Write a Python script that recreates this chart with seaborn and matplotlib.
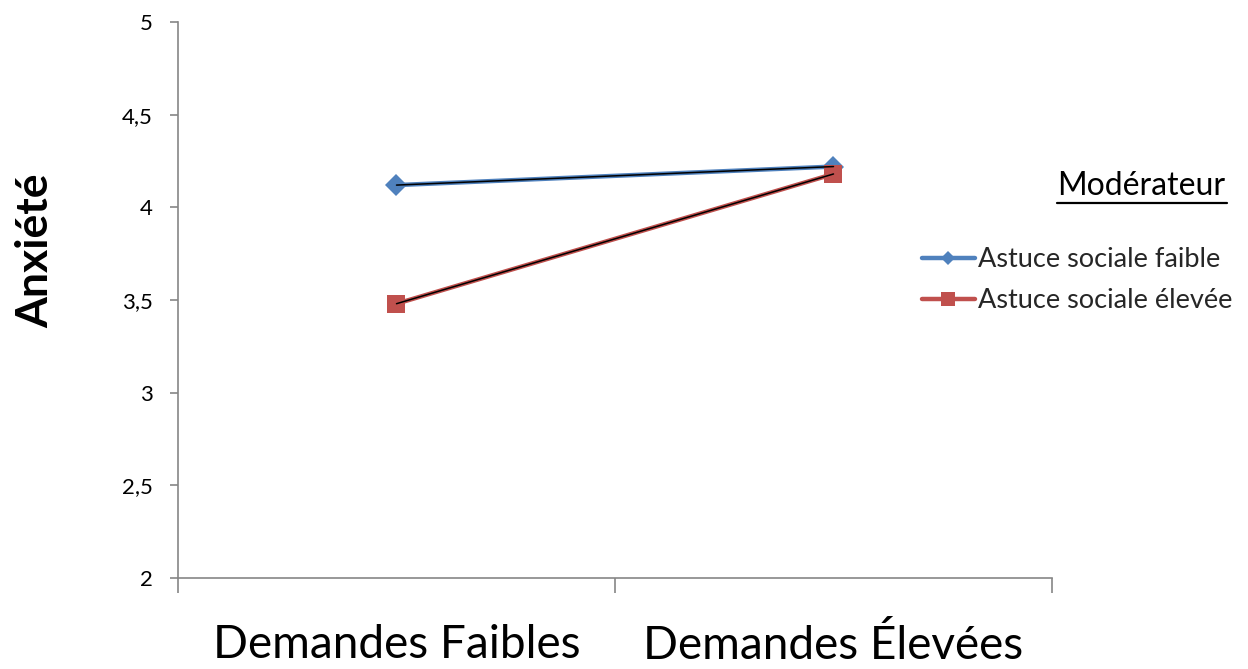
import matplotlib
matplotlib.use("Agg")
import matplotlib.pyplot as plt
from matplotlib.lines import Line2D
import seaborn as sns
import pandas as pd

# Data
demandes = ["Demandes Faibles", "Demandes Élevées"]
moderateurs = ["Astuce sociale faible", "Astuce sociale élevée"]
anxiete_faible = [4.12, 4.22]
anxiete_elevee = [3.48, 4.18]
y_ticks = [2, 2.5, 3, 3.5, 4, 4.5, 5]

df = pd.DataFrame({
    "demande": demandes * 2,
    "anxiete": anxiete_faible + anxiete_elevee,
    "moderateur": [moderateurs[0]] * 2 + [moderateurs[1]] * 2,
})

sns.set_theme(style="white")
plt.rcParams["font.family"] = ["Lato", "DejaVu Sans"]

BLUE = "#4F81BD"
RED = "#C0504D"
AXIS = "#868686"

fig = plt.figure(figsize=(12.48, 6.69), dpi=100)
ax = fig.add_axes([178 / 1248, 1 - 578 / 669, (1052 - 178) / 1248, (578 - 22) / 669])

sns.lineplot(
    data=df, x="demande", y="anxiete", hue="moderateur", style="moderateur",
    palette={moderateurs[0]: BLUE, moderateurs[1]: RED},
    markers={moderateurs[0]: "D", moderateurs[1]: "s"}, dashes=False,
    linewidth=3.2, markeredgewidth=0, ax=ax, legend=False, sort=False,
)
# marker sizes differ per series
for line, ms in zip(ax.lines, (11.5, 12.5)):
    line.set_markersize(ms)
# thin dark stroke through the middle of each series
for vals in (anxiete_faible, anxiete_elevee):
    sns.lineplot(x=[0, 1], y=vals, color="black", linewidth=1.1, ax=ax, legend=False)

ax.set_xlim(-0.5, 1.5)
ax.set_ylim(2, 5)
ax.set_yticks(y_ticks)
ax.set_yticklabels([f"{v:g}".replace(".", ",") for v in y_ticks], fontsize=16, color="black")
ax.set_xticks([0, 1])
ax.set_xticklabels(demandes, fontsize=33, color="black")
ax.tick_params(axis="x", length=0, pad=33)
ax.set_xticks([-0.5, 0.5, 1.5], minor=True)
ax.tick_params(axis="x", which="minor", length=11, width=1.2, color=AXIS, bottom=True)
ax.tick_params(axis="y", length=6, width=1.2, color=AXIS, left=True, pad=12)

for side in ("top", "right"):
    ax.spines[side].set_visible(False)
for side in ("left", "bottom"):
    ax.spines[side].set_color(AXIS)
    ax.spines[side].set_linewidth(1.2)

ax.set_xlabel("")
ax.set_ylabel("Anxiété", fontsize=32, fontweight="bold", color="black")
ax.yaxis.set_label_coords((35 - 178) / 874, (578 - 251) / 556)
ax.yaxis.label.set_verticalalignment("center")

# Legend
handles = [
    Line2D([], [], color=BLUE, marker="D", markersize=7.5, linewidth=3.2, markeredgewidth=0),
    Line2D([], [], color=RED, marker="s", markersize=9.5, linewidth=3.2, markeredgewidth=0),
]
leg = fig.legend(handles, moderateurs, loc="upper left", bbox_to_anchor=(922 / 1248, 1 - 247 / 669),
                 frameon=False, fontsize=19.5, handlelength=1.95, handletextpad=0.1,
                 labelspacing=0.6, borderaxespad=0, borderpad=0)

title = fig.text(1225 / 1248, 1 - 186 / 669, "Modérateur", fontsize=23, ha="right", va="center",
                 color="black")
fig.canvas.draw()
bb = title.get_window_extent().transformed(fig.transFigure.inverted())
fig.add_artist(Line2D([bb.x0, bb.x1 + 2 / 1248], [1 - 203 / 669] * 2, color="black", linewidth=1.6,
                      transform=fig.transFigure))

fig.savefig("out.png", dpi=100)
